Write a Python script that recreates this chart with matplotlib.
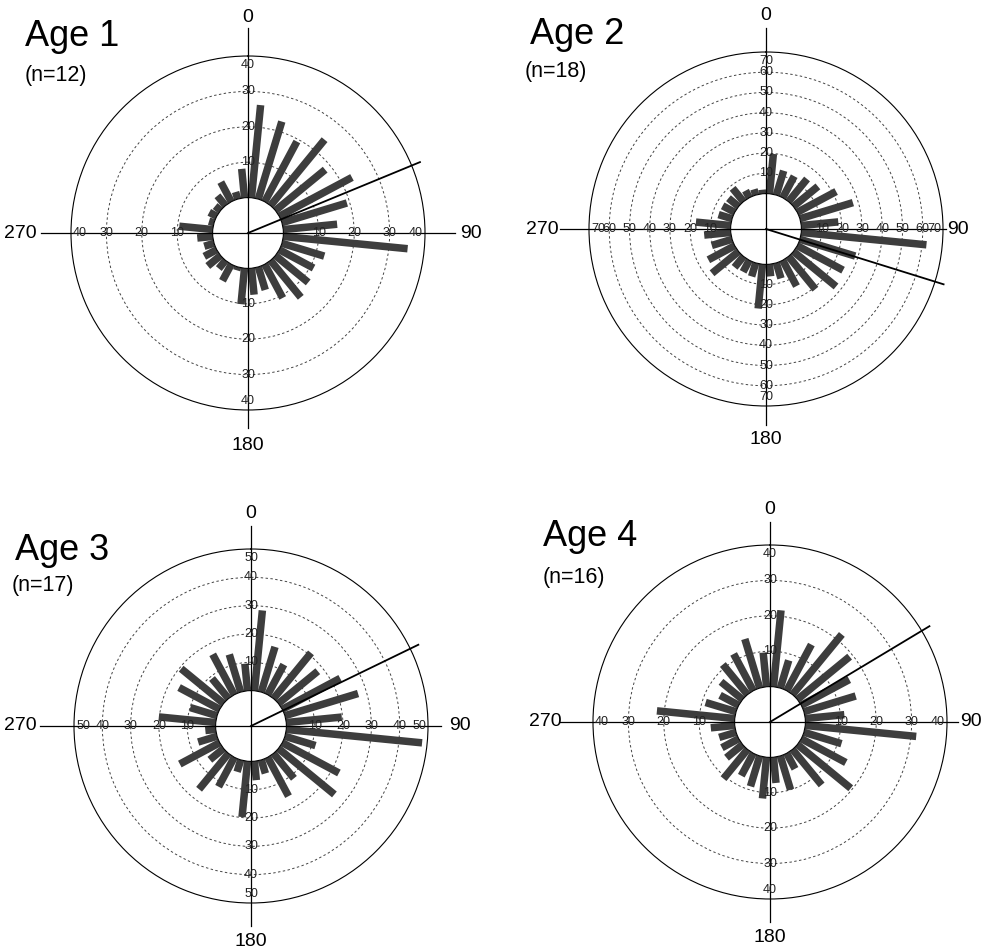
import numpy as np
import matplotlib
matplotlib.use("Agg")
import matplotlib.pyplot as plt

plt.rcParams["font.family"] = ["Liberation Sans", "DejaVu Sans"]

# 32 direction classes of 11.25 deg, values = bar lengths
bin_centres = (np.arange(32) + 0.5) * 360 / 32

age1 = [26.3, 22.9, 19.3, 24.1, 18.2, 23.3, 19.2, 15.3, 35.3, 12.5, 11.0, 12.0,
        13.5, 10.8, 6.8, 7.5, 10.2, 1.0, 5.3, 3.0, 4.7, 4.0, 2.9, 4.4,
        9.5, 1.5, 2.4, 2.0, 3.6, 6.3, 2.1, 8.2]
age2 = [19.8, 12.6, 12.1, 14.5, 15.7, 21.8, 27.4, 18.4, 62.2, 28.6, 25.7, 27.3,
        21.0, 14.5, 8.0, 6.0, 22.0, 7.0, 6.5, 7.0, 17.0, 14.8, 10.5, 13.2,
        17.3, 7.0, 6.8, 6.5, 8.5, 4.0, 3.0, 2.0]
age3 = [28.5, 16.7, 12.1, 20.9, 18.0, 23.2, 27.0, 19.7, 48.2, 11.3, 22.7, 25.6,
        11.4, 15.6, 5.0, 6.7, 19.8, 4.4, 11.8, 16.4, 6.3, 16.0, 7.0, 3.7,
        20.2, 9.9, 16.3, 19.4, 9.2, 16.2, 13.9, 9.6]
age4 = [21.7, 8.2, 14.8, 22.0, 19.1, 15.4, 15.3, 11.1, 31.5, 11.1, 14.3, 19.5,
        13.0, 5.0, 10.0, 7.3, 11.7, 9.0, 7.2, 10.7, 5.9, 5.4, 5.0, 6.8,
        22.1, 9.0, 6.0, 7.9, 11.0, 11.8, 14.5, 9.7]

r_max = [40, 70, 50, 40]
mean_dir = [67.6, 107.3, 64.1, 59.0]
titles = ["Age 1", "Age 2", "Age 3", "Age 4"]
n_text = ["(n=12)", "(n=18)", "(n=17)", "(n=16)"]

W, H = 998, 951
RAD = 177  # outer circle radius in px
centres = [(248, 233), (766, 229), (251, 726), (770, 722)]
# crosshair arm lengths in px: N, E, S, W
arms = [(205, 207, 195, 207), (201, 180, 196, 206),
        (200, 190, 200, 211), (200, 188, 200, 210)]
# compass label offsets in px: N, E, S, W
lab_off = [(215, 223, 212, 228), (214, 192, 211, 224),
           (213, 209, 216, 231), (212, 201, 216, 225)]
# title / n label positions (left x, centre y) in px
title_pos = [(25, 36), (530, 35), (15, 550), (543, 537)]
n_pos = [(25, 75), (525, 72), (12, 585), (543, 578)]

fig = plt.figure(figsize=(W / 100, H / 100), dpi=100)

for i, vals in enumerate([age1, age2, age3, age4]):
    R = r_max[i]
    cx, cy = centres[i]
    ax = fig.add_axes([(cx - RAD) / W, (H - cy - RAD) / H, 2 * RAD / W, 2 * RAD / H],
                      projection="polar")
    ax.set_theta_zero_location("N")
    ax.set_theta_direction(-1)
    ax.set_ylim(0, R)
    ax.set_rorigin(-R / 4)
    ax.set_xticks([])
    ax.set_yticks(np.arange(10, R, 10))
    ax.set_yticklabels([])
    ax.tick_params(length=0)
    ax.yaxis.grid(True, color="#444444", linestyle=(0, (2.5, 2.5)), linewidth=0.7)
    ax.spines["polar"].set_linewidth(0.8)
    ax.spines["polar"].set_color("black")
    ax.spines["inner"].set_visible(False)

    def px_to_r(px):
        return px / RAD * 1.25 * R - R / 4

    ax.vlines(np.deg2rad(bin_centres), 0, vals, colors="#3d3d3d",
              linewidth=5.4, capstyle="butt", zorder=2)

    for th, arm in zip([0, 90, 180, 270], arms[i]):
        t = np.deg2rad(th)
        ax.plot([t, t], [-R / 4, px_to_r(arm)], color="black", lw=0.9,
                clip_on=False, zorder=3)
        for v in range(10, R + 1, 10):
            rr = v if v < R else px_to_r(RAD - 9)
            ax.text(t, rr, str(v), ha="center", va="center", fontsize=9,
                    color="#222222", zorder=5, clip_on=False)

    t = np.deg2rad(mean_dir[i])
    ax.plot([t, t], [-R / 4, px_to_r(RAD + 9)], color="black", lw=1.3,
            clip_on=False, zorder=4)

    n, e, s, w = lab_off[i]
    fs = 14
    fig.text(cx / W, 1 - (cy - n) / H, "0", ha="center", va="center", fontsize=fs)
    fig.text((cx + e) / W, 1 - cy / H, "90", ha="center", va="center", fontsize=fs)
    fig.text(cx / W, 1 - (cy + s) / H, "180", ha="center", va="center", fontsize=fs)
    fig.text((cx - w) / W, 1 - cy / H, "270", ha="center", va="center", fontsize=fs)

    tx, ty = title_pos[i]
    fig.text(tx / W, 1 - ty / H, titles[i], ha="left", va="center", fontsize=26)
    nx, ny = n_pos[i]
    fig.text(nx / W, 1 - ny / H, n_text[i], ha="left", va="center", fontsize=15.5)

fig.savefig("out.png", dpi=100)
